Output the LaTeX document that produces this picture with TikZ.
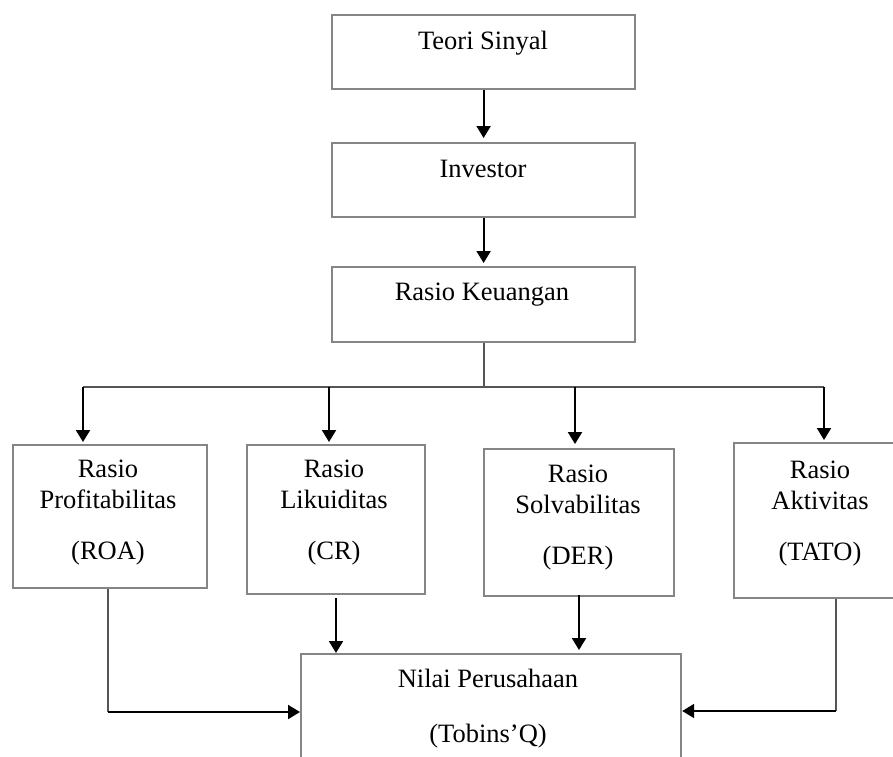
\documentclass[tikz,border=0pt]{standalone}
\usepackage{fontspec}
\setmainfont{Liberation Serif}
\usetikzlibrary{arrows.meta}
\definecolor{boxgray}{HTML}{858585}
\definecolor{linegray}{HTML}{555555}
\begin{document}
\begin{tikzpicture}[x=1pt,y=-1pt,
  box/.style={draw=boxgray, line width=2.2pt, inner sep=0pt, anchor=north west},
  lbl/.style={font=\fontsize{26.5}{31}\selectfont, align=center, inner sep=0pt},
  arr/.style={draw=black, line width=2pt, -{Triangle[length=12pt,width=14pt]}},
  ln/.style={draw=linegray, line width=1.8pt}]
\useasboundingbox (0,0) rectangle (893,756);
\clip (0,0) rectangle (893,756);
\fill[white] (0,0) rectangle (893,756);
% boxes
\node[box, minimum width=303pt, minimum height=74pt] (ts) at (331,14) {};
\node[box, minimum width=303pt, minimum height=74pt] (inv) at (331,142) {};
\node[box, minimum width=303pt, minimum height=75pt] (rk) at (331,266) {};
\node[box, minimum width=194pt, minimum height=143pt] (roa) at (12,444) {};
\node[box, minimum width=178pt, minimum height=149pt] (cr) at (246,444) {};
\node[box, minimum width=190pt, minimum height=147pt] (der) at (483,448) {};
\node[box, minimum width=175pt, minimum height=155pt] (tato) at (733,442) {};
\node[box, minimum width=380pt, minimum height=125pt] (nv) at (300,653) {};
% texts
\node[lbl, anchor=base] (tst) at (483,49) {Teori Sinyal};
\node[lbl, anchor=base] (invt) at (483,177) {Investor};
\node[lbl, anchor=base] (rkt) at (482,300) {Rasio Keuangan};
\node[lbl, anchor=north] (roat) at (108,460) {Rasio\\Profitabilitas\\[20pt](ROA)};
\node[lbl, anchor=north] (crt) at (334,460) {Rasio\\Likuiditas\\[20pt](CR)};
\node[lbl, anchor=north] (dert) at (578,465) {Rasio\\Solvabilitas\\[20pt](DER)};
\node[lbl, anchor=north] (tatot) at (820,461) {Rasio\\Aktivitas\\[20pt](TATO)};
\node[lbl, anchor=north] (nvt) at (488,669) {Nilai Perusahaan\\[24pt](Tobins’Q)};
% top connectors
\draw[arr, shorten >=4pt] (ts.south) -- (inv.north);
\draw[arr, shorten >=3pt] (inv.south) -- (rk.north);
% distribution bus
\coordinate (busL) at (83,387);
\coordinate (busR) at (824,387);
\coordinate (b2) at (329,387);
\coordinate (b3) at (575,387);
\draw[ln] (rk.south) -- (rk.south |- busL);
\draw[ln] (busL) -- (busR);
\draw[arr, shorten >=2pt] (busL) -- (busL |- roa.north);
\draw[arr, shorten >=2pt] (b2) -- (b2 |- cr.north);
\draw[arr, shorten >=4pt] (b3) -- (b3 |- der.north);
\draw[arr, shorten >=2pt] (busR) -- (busR |- tato.north);
% bottom connectors
\coordinate (c1) at (108,712);
\coordinate (c2) at (336,0);
\coordinate (c3) at (579,0);
\coordinate (c4) at (836,711);
\draw[ln] (c1 |- roa.south) -- (c1);
\draw[arr] (c1) -- (c1 -| nv.west);
\draw[arr, shorten <=3pt] (c2 |- cr.south) -- (c2 |- nv.north);
\draw[arr, shorten <=-2pt, shorten >=3pt] (c3 |- der.south) -- (c3 |- nv.north);
\draw[ln] (c4 |- tato.south) -- (c4);
\draw[arr] (c4) -- (c4 -| nv.east);
\end{tikzpicture}
\end{document}
